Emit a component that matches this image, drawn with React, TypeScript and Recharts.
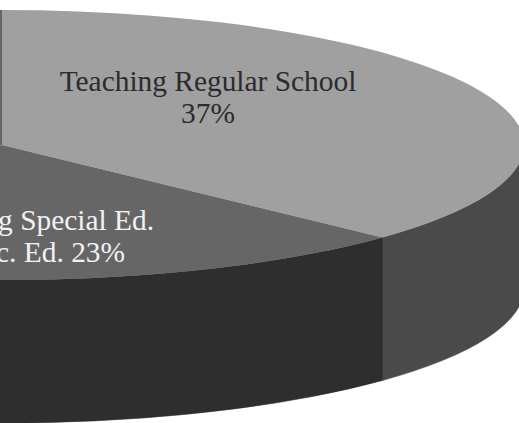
import { Pie, PieChart } from "recharts";

const slices = ["Teaching Regular School", "Teaching Special Ed.", "Other"];
const shares = [37, 23, 40];
const topColors = ["#a0a0a0", "#666666", "#666666"];
const wallColors = ["#4a4a4a", "#2e2e2e", "#2e2e2e"];

const tilt = 135 / 522;
const depth = 143;
const RAD = Math.PI / 180;

const rows = slices.map((name, i) => ({ name, value: shares[i], top: topColors[i], wall: wallColors[i] }));

function pt(cx: number, cy: number, r: number, deg: number) {
  return [cx + r * Math.cos(deg * RAD), cy - r * tilt * Math.sin(deg * RAD)];
}

function TopFace(props: any) {
  const { cx, cy, outerRadius: r, startAngle, endAngle, payload } = props;
  const [x1, y1] = pt(cx, cy, r, startAngle);
  const [x2, y2] = pt(cx, cy, r, endAngle);
  const large = Math.abs(startAngle - endAngle) > 180 ? 1 : 0;
  const d = `M${cx},${cy} L${x1},${y1} A${r},${r * tilt} 0 ${large} 1 ${x2},${y2} Z`;
  return <path d={d} fill={payload?.top ?? props.top} />;
}

// only the front half of the rim is visible
function WallFace(props: any) {
  const { cx, cy, outerRadius: r, startAngle, endAngle, payload } = props;
  const s = Math.min(startAngle, 0);
  const e = Math.max(endAngle, -180);
  if (s <= e) return <g />;
  const [x1, y1] = pt(cx, cy, r, s);
  const [x2, y2] = pt(cx, cy, r, e);
  const rx = r;
  const ry = r * tilt;
  const fill = payload?.wall ?? props.wall;
  const d = `M${x1},${y1} A${rx},${ry} 0 0 1 ${x2},${y2} L${x2},${y2 + depth} A${rx},${ry} 0 0 0 ${x1},${y1 + depth} Z`;
  return <path d={d} fill={fill} stroke={fill} strokeWidth={0.6} />;
}

function Labels(props: any) {
  const serif = { fontFamily: "'Liberation Serif', serif", fontSize: 29.4 };
  if (props.index === 0) {
    return (
      <g style={serif} fill="#2b2b2b" textAnchor="middle">
        <text x={208} y={91}>{slices[0]}</text>
        <text x={208} y={123}>{shares[0]}%</text>
      </g>
    );
  }
  if (props.index === 1) {
    return (
      <g style={serif} fill="#f2f2f2" textAnchor="end">
        <text x={154} y={230}>{slices[1]}</text>
        <text x={125} y={262}>Spec. Ed. {shares[1]}%</text>
      </g>
    );
  }
  return <g />;
}

export default function App() {
  return (
    <div style={{ position: "absolute", left: 0, top: 0, width: 519, height: 423, overflow: "hidden", background: "#fff" }}>
      <PieChart width={519} height={423} margin={{ top: 0, right: 0, bottom: 0, left: 0 }}>
        <Pie
          data={rows}
          dataKey="value"
          cx={2}
          cy={145}
          innerRadius={0}
          outerRadius={522}
          startAngle={90}
          endAngle={-270}
          stroke="none"
          isAnimationActive={false}
          shape={WallFace}
        />
        <Pie
          data={rows}
          dataKey="value"
          cx={2}
          cy={145}
          innerRadius={0}
          outerRadius={522}
          startAngle={90}
          endAngle={-270}
          stroke="none"
          isAnimationActive={false}
          shape={TopFace}
          label={Labels}
          labelLine={false}
        />
      </PieChart>
    </div>
  );
}
